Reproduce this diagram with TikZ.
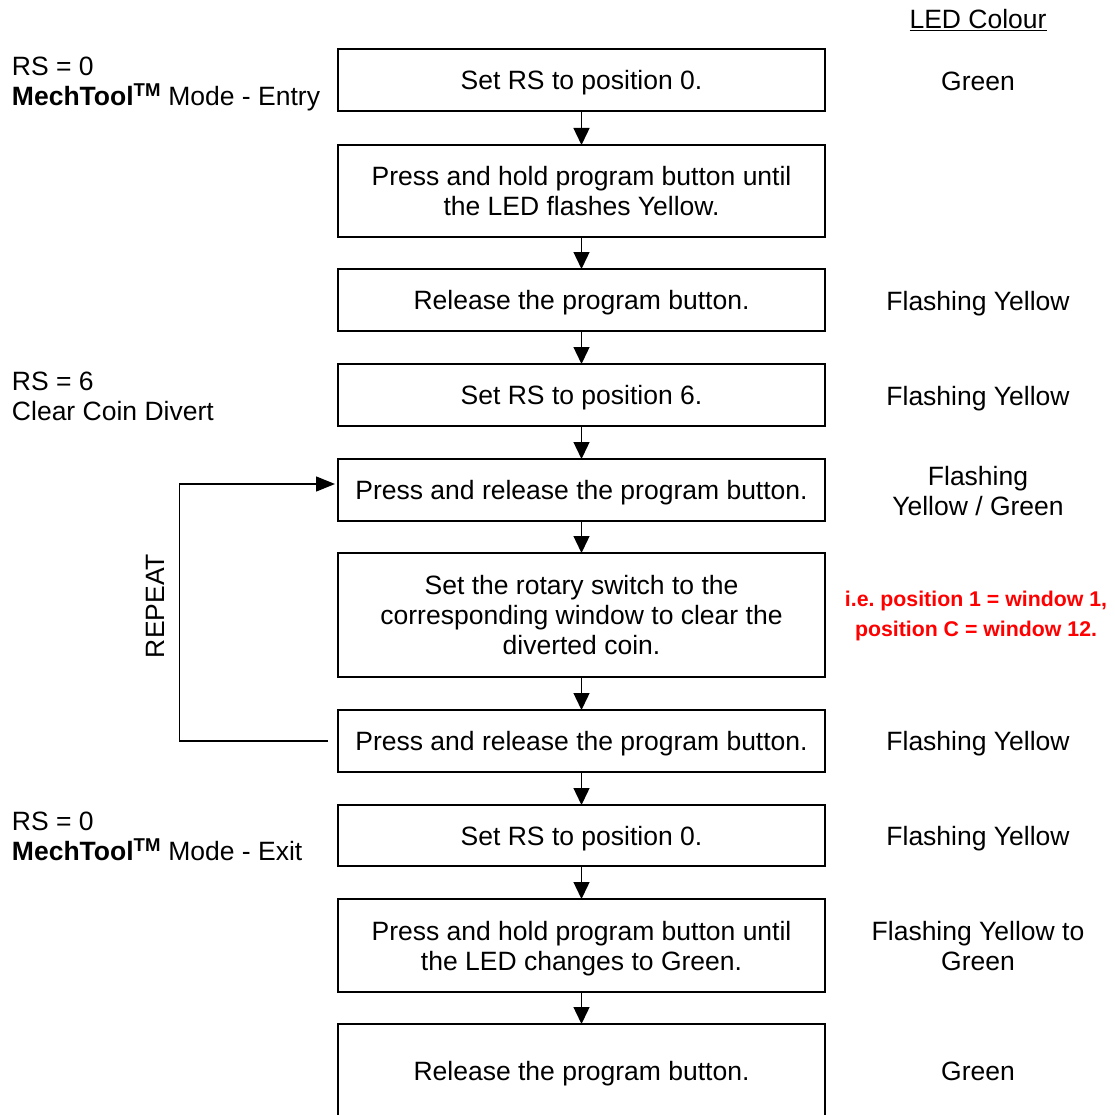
\documentclass[tikz,border=0pt]{standalone}
\usepackage{fontspec}
\setmainfont{Liberation Sans}
\usetikzlibrary{arrows.meta}

\begin{document}
\begin{tikzpicture}[x=1pt,y=1pt,
  every node/.style={inner sep=0pt, outer sep=0pt, text depth=0pt, font=\fontsize{26.5}{30}\selectfont},
  stepbox/.style={draw, line width=2.2pt, minimum width=487pt, align=center},
  flow/.style={line width=1.4pt, -{Triangle[width=16pt,length=17pt]}},
  loopflow/.style={line width=1.4pt, -{Triangle[width=15pt,length=19pt]}},
  side/.style={align=left, anchor=west},
  led/.style={align=center},
  note/.style={align=center, text=red, font=\fontsize{21.3}{30}\selectfont\bfseries}
]
\useasboundingbox (0,0) rectangle (1115,-1115);

% procedure steps
\node[stepbox, minimum height=62pt]  (s1)  at (581.5,-80)   {Set RS to position 0.};
\node[stepbox, minimum height=92pt]  (s2)  at (581.5,-191)  {Press and hold program button until\\the LED flashes Yellow.};
\node[stepbox, minimum height=62pt]  (s3)  at (581.5,-300)  {Release the program button.};
\node[stepbox, minimum height=62pt]  (s4)  at (581.5,-395)  {Set RS to position 6.};
\node[stepbox, minimum height=62pt]  (s5)  at (581.5,-490)  {Press and release the program button.};
\node[stepbox, minimum height=124pt] (s6)  at (581.5,-615)  {Set the rotary switch to the\\corresponding window to clear the\\diverted coin.};
\node[stepbox, minimum height=62pt]  (s7)  at (581.5,-741)  {Press and release the program button.};
\node[stepbox, minimum height=61pt]  (s8)  at (581.5,-835.5){Set RS to position 0.};
\node[stepbox, minimum height=93pt]  (s9)  at (581.5,-945.5){Press and hold program button until\\the LED changes to Green.};
\node[stepbox, minimum height=94pt]  (s10) at (581.5,-1071) {Release the program button.};

% arrows between steps
\foreach \a/\b in {s1/s2,s2/s3,s3/s4,s4/s5,s5/s6,s6/s7,s7/s8,s8/s9,s9/s10}
  \draw[flow] (\a.south) -- (\b.north);

% repeat loop
\coordinate (loopstart) at ([xshift=-10pt]s7.west);
\coordinate (loopend) at ([xshift=-3pt,yshift=6pt]s5.west);
\draw[loopflow] (loopstart) -- (179.5,-741) |- (loopend);
\node[rotate=90] (rep) at (155,-606) {REPEAT};

% mode labels on the left
\node[side] (m1) at (12,-81)  {RS = 0\\\textbf{MechTool}\textsuperscript{\textbf{TM}} Mode - Entry};
\node[side] (m2) at (12,-396) {RS = 6\\Clear Coin Divert};
\node[side] (m3) at (12,-836) {RS = 0\\\textbf{MechTool}\textsuperscript{\textbf{TM}} Mode - Exit};

% LED colour column
\node[led] (hdr) at (978,-19)  {\underline{LED Colour}};
\node[led] (c1)  at (978,-81)  {Green};
\node[led] (c3)  at (978,-301) {Flashing Yellow};
\node[led] (c4)  at (978,-396) {Flashing Yellow};
\node[led] (c5)  at (978,-491) {Flashing\\Yellow / Green};
\node[note] (c6) at (976,-614) {i.e.\ position 1 = window 1,\\position C = window 12.};
\node[led] (c7)  at (978,-741) {Flashing Yellow};
\node[led] (c8)  at (978,-836) {Flashing Yellow};
\node[led] (c9)  at (978,-946) {Flashing Yellow to\\Green};
\node[led] (c10) at (978,-1071){Green};
\end{tikzpicture}
\end{document}
